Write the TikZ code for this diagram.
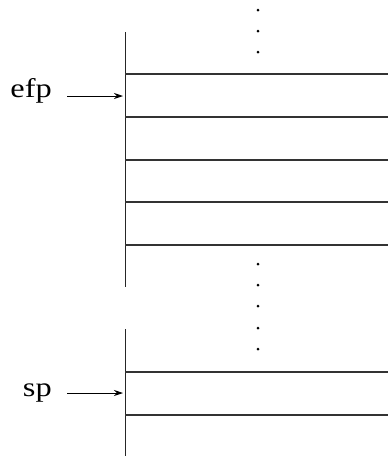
\documentclass[tikz,border=0pt]{standalone}
\usepackage{fontspec}
\setmainfont{Liberation Serif}
\usetikzlibrary{arrows.meta}
\begin{document}
\begin{tikzpicture}[x=1pt,y=-1pt,
  wall/.style={line width=1.1pt,black!85},
  row/.style={line width=1.1pt,black!80},
  ptr/.style={line width=0.9pt,-{Stealth[length=9pt,width=6pt]}},
  lbl/.style={font=\fontsize{27}{27}\selectfont,inner sep=0pt,anchor=base east},
  vdot/.style={circle,fill=black,inner sep=0pt,minimum size=3pt}]
\useasboundingbox (0,0) rectangle (388,456);
% walls
\draw[wall] (125.3,32) -- (125.3,287);
\draw[wall] (125.3,329) -- (125.3,456);
% rows
\foreach \y in {74,117,160,202,245,372,415}
  \draw[row] (125.3,\y) -- (388,\y);
% dots
\foreach \y/\n in {10/a,31/b,52/c} \node[vdot] (top\n) at (258,\y) {};
\foreach \y/\n in {264/a,285/b,306/c,328/d,349/e} \node[vdot] (mid\n) at (258,\y) {};
% labels and pointers
\node[lbl] (efp) at (52,97.3) {\scalebox{1.2}[1]{efp}};
\node[lbl] (sp) at (52,396.7) {\scalebox{1.2}[1]{sp}};
\coordinate (efpT) at (123,96);
\coordinate (spT) at (123,393);
\coordinate (efpS) at (67,96);
\coordinate (spS) at (67,393);
\draw[ptr] (efpS) -- (efpT);
\draw[ptr] (spS) -- (spT);
\end{tikzpicture}
\end{document}
